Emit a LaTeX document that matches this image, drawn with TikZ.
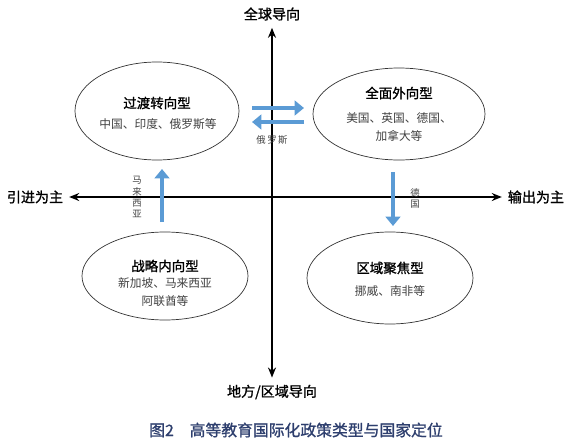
\documentclass[tikz,border=0pt]{standalone}
\usepackage{fontspec}
\setmainfont{Noto Sans CJK SC}
\newfontfamily\cjkheavy[FakeBold=1.2]{Noto Sans CJK SC}
\usepackage{tikz}
\usetikzlibrary{arrows.meta,positioning,shapes.geometric}
\definecolor{PolicyBlue}{HTML}{5B9BD5}
\definecolor{CaptionBlue}{HTML}{2E3F6E}
\begin{document}
\begin{tikzpicture}[
    x=0.03cm, y=-0.03cm,
    quad/.style={draw=black!80, ellipse, line width=0.6pt, inner sep=0pt, align=center},
    ttl/.style={font=\cjkheavy\fontsize{11.5}{14}\selectfont},
    sub/.style={font=\fontsize{10}{16}\selectfont, color=black!75, align=center},
    axislbl/.style={font=\cjkheavy\fontsize{12}{14}\selectfont, inner sep=1pt},
    vlbl/.style={font=\fontsize{8}{9.5}\selectfont, color=black!75, align=center, inner sep=0pt},
    axis/.style={{Stealth[length=3mm,width=2.4mm]}-{Stealth[length=3mm,width=2.4mm]}, line width=1.4pt},
    flow/.style={-{Triangle[length=2.8mm,width=4.4mm]}, line width=4pt, color=PolicyBlue}
  ]
    \useasboundingbox (0,0) rectangle (577,446);
    % axis labels
    \node[axislbl] (global) at (272,14) {全球导向};
    \node[axislbl] (local) at (272,392) {地方/区域导向};
    \node[axislbl] (import) at (35,197) {引进为主};
    \node[axislbl] (export) at (536,197) {输出为主};
    \draw[axis, shorten <=5pt, shorten >=5pt] (global) -- (local);
    \draw[axis, shorten <=4pt, shorten >=4pt] (import) -- (export);
    % four quadrants
    \node[quad, minimum width=4.92cm, minimum height=2.94cm] (tl) at (157,111) {};
    \node[ttl] (tlname) at (157,103) {过渡转向型};
    \node[sub] (tlsub) at (158,124) {中国、印度、俄罗斯等};
    \node[quad, minimum width=5.16cm, minimum height=2.76cm] (tr) at (399,114) {};
    \node[ttl] (trname) at (399,93) {全面外向型};
    \node[sub] (trsub) at (399,127) {美国、英国、德国、\\加拿大等};
    \node[quad, minimum width=4.98cm, minimum height=2.64cm] (bl) at (165,276) {};
    \node[ttl] (blname) at (165,266) {战略内向型};
    \node[sub] (blsub) at (165,292) {新加坡、马来西亚\\阿联酋等};
    \node[quad, minimum width=4.98cm, minimum height=2.76cm] (br) at (390,278) {};
    \node[ttl] (brname) at (390,268) {区域聚焦型};
    \node[sub] (brsub) at (390,291) {挪威、南非等};
    % country moves
    \coordinate (rsA) at (252,108);
    \coordinate (rsB) at (304,108);
    \coordinate (rsC) at (252,122);
    \coordinate (rsD) at (304,122);
    \draw[flow] (rsA) -- (rsB);
    \draw[flow] (rsD) -- (rsC);
    \node[vlbl] (russia) at (272,140) {俄\,罗\,斯};
    \coordinate (myA) at (162,222);
    \coordinate (myB) at (162,169);
    \draw[flow] (myA) -- (myB);
    \node[vlbl] (malaysia) at (137,197) {马\\来\\西\\亚};
    \coordinate (deA) at (393,172);
    \coordinate (deB) at (393,226);
    \draw[flow] (deA) -- (deB);
    \node[vlbl] (germany) at (415,198) {德\\国};
    % caption
    \node[font=\cjkheavy\fontsize{13.5}{15}\selectfont, color=CaptionBlue] (caption) at (296,430) {图2\quad 高等教育国际化政策类型与国家定位};
\end{tikzpicture}
\end{document}
